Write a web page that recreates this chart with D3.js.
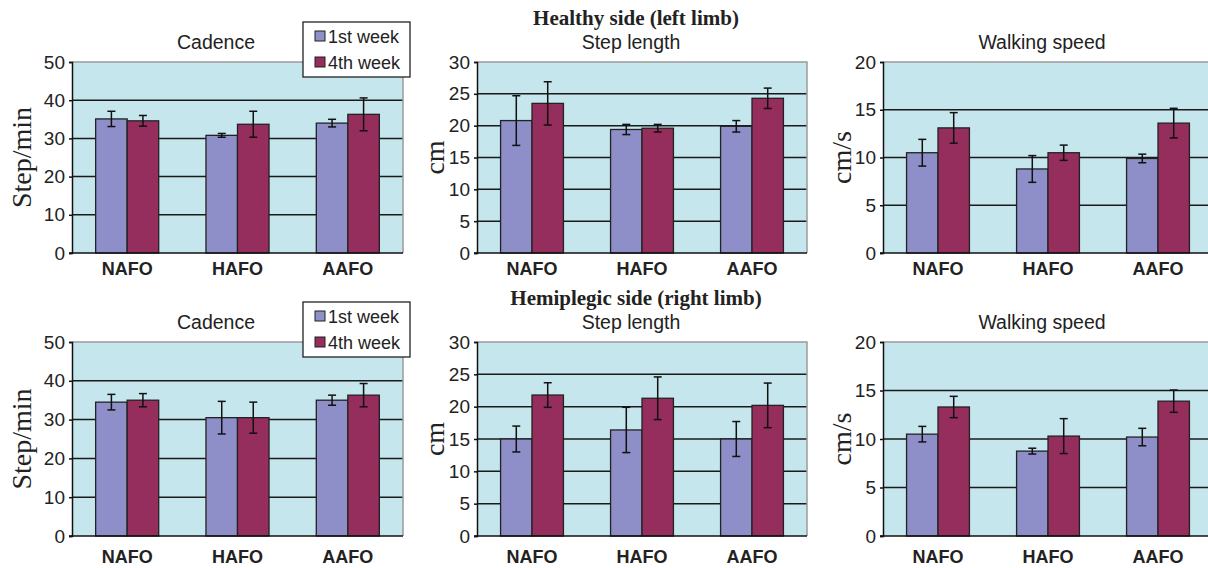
<!DOCTYPE html>
<html>
<head>
<meta charset="utf-8">
<script src="https://cdn.jsdelivr.net/npm/d3@7"></script>
<style>
  body { margin: 0; background: #fff; }
  svg { display: block; font-family: 'Liberation Sans', Arial, sans-serif; }
</style>
</head>
<body>
<svg id="chart" width="1208" height="568"></svg>
<script>
// categories / series
const categories = ['NAFO', 'HAFO', 'AAFO']
const weeks = ['1st week', '4th week']
const sideTitles = ['Healthy side (left limb)', 'Hemiplegic side (right limb)']
const measureTitles = ['Cadence', 'Step length', 'Walking speed']
const yLabels = ['Step/min', 'cm', 'cm/s']
const yTicks = [[0, 10, 20, 30, 40, 50], [0, 5, 10, 15, 20, 25, 30], [0, 5, 10, 15, 20]]

// healthy side (left limb): mean and error per category
const healthyCadenceWk1 = [35.1, 30.8, 34.0]
const healthyCadenceWk1Err = [2.0, 0.5, 1.0]
const healthyCadenceWk4 = [34.6, 33.7, 36.3]
const healthyCadenceWk4Err = [1.4, 3.4, 4.3]
const healthyStepWk1 = [20.8, 19.4, 19.9]
const healthyStepWk1Err = [3.9, 0.8, 0.9]
const healthyStepWk4 = [23.5, 19.6, 24.3]
const healthyStepWk4Err = [3.4, 0.6, 1.6]
const healthySpeedWk1 = [10.5, 8.8, 9.9]
const healthySpeedWk1Err = [1.4, 1.4, 0.45]
const healthySpeedWk4 = [13.1, 10.5, 13.6]
const healthySpeedWk4Err = [1.6, 0.8, 1.55]

// hemiplegic side (right limb)
const hemiCadenceWk1 = [34.5, 30.5, 35.0]
const hemiCadenceWk1Err = [2.0, 4.2, 1.3]
const hemiCadenceWk4 = [35.0, 30.5, 36.3]
const hemiCadenceWk4Err = [1.7, 4.0, 3.0]
const hemiStepWk1 = [15.0, 16.4, 15.0]
const hemiStepWk1Err = [2.0, 3.5, 2.7]
const hemiStepWk4 = [21.8, 21.3, 20.2]
const hemiStepWk4Err = [1.9, 3.3, 3.45]
const hemiSpeedWk1 = [10.5, 8.75, 10.2]
const hemiSpeedWk1Err = [0.8, 0.3, 0.9]
const hemiSpeedWk4 = [13.3, 10.3, 13.9]
const hemiSpeedWk4Err = [1.1, 1.8, 1.15]

const panelData = [
  [
    [[healthyCadenceWk1, healthyCadenceWk1Err], [healthyCadenceWk4, healthyCadenceWk4Err]],
    [[healthyStepWk1, healthyStepWk1Err], [healthyStepWk4, healthyStepWk4Err]],
    [[healthySpeedWk1, healthySpeedWk1Err], [healthySpeedWk4, healthySpeedWk4Err]],
  ],
  [
    [[hemiCadenceWk1, hemiCadenceWk1Err], [hemiCadenceWk4, hemiCadenceWk4Err]],
    [[hemiStepWk1, hemiStepWk1Err], [hemiStepWk4, hemiStepWk4Err]],
    [[hemiSpeedWk1, hemiSpeedWk1Err], [hemiSpeedWk4, hemiSpeedWk4Err]],
  ],
]

// layout
const colX = [[72, 403], [477, 807], [883, 1213]]
const rowY = [[62, 253], [342, 536]]
const catLabelDy = [22, 27]
const yLabelX = [31, 444, 851]
const titleX = [216, 631, 1042]
const colors = ['#8e8ec8', '#952d5d']
const plotBg = '#c5e6ec'

const svg = d3.select('#chart')
svg.append('rect').attr('width', 1208).attr('height', 568).attr('fill', '#fff')

rowY.forEach(([top, bottom], r) => {
  // 上方的大标题
  svg.append('text')
    .attr('x', 636)
    .attr('y', top - 37)
    .attr('text-anchor', 'middle')
    .attr('font-family', "'Liberation Serif', 'Times New Roman', serif")
    .attr('font-weight', 'bold')
    .attr('font-size', 21)
    .attr('fill', '#222')
    .text(sideTitles[r])

  colX.forEach(([left, right], c) => {
    const g = svg.append('g')
    const innerW = right - left

    const x0 = d3.scaleBand().domain(categories).range([left, right])
    const x1 = d3.scaleBand().domain(weeks).range([0, x0.bandwidth()]).paddingOuter(0.75)
    const ticks = yTicks[c]
    const y = d3.scaleLinear().domain([0, d3.max(ticks)]).range([bottom, top])

    // 背景
    g.append('rect')
      .attr('x', left).attr('y', top)
      .attr('width', innerW).attr('height', bottom - top)
      .attr('fill', plotBg)

    // 网格线
    g.append('g')
      .selectAll('line')
      .data(ticks.slice(1, -1))
      .join('line')
      .attr('x1', left).attr('x2', right)
      .attr('y1', d => y(d)).attr('y2', d => y(d))
      .attr('stroke', '#1a1a1a')
      .attr('stroke-width', 1.5)

    // 上、右边框
    g.append('path')
      .attr('d', `M${left},${top}H${right}V${bottom}`)
      .attr('fill', 'none')
      .attr('stroke', '#9a9a9a')
      .attr('stroke-width', 1.5)

    // 柱子
    const rows = []
    panelData[r][c].forEach(([means, errs], s) => {
      categories.forEach((cat, i) => rows.push({ cat, week: weeks[s], s, v: means[i], e: errs[i] }))
    })

    g.append('g')
      .selectAll('rect')
      .data(rows)
      .join('rect')
      .attr('x', d => x0(d.cat) + x1(d.week))
      .attr('y', d => y(d.v))
      .attr('width', x1.bandwidth())
      .attr('height', d => bottom - y(d.v))
      .attr('fill', d => colors[d.s])
      .attr('stroke', '#222')
      .attr('stroke-width', 1.3)

    // 误差线
    const eg = g.append('g').attr('stroke', '#111').attr('stroke-width', 1.5)
    rows.forEach(d => {
      const cx = x0(d.cat) + x1(d.week) + x1.bandwidth() / 2
      eg.append('line').attr('x1', cx).attr('x2', cx).attr('y1', y(d.v + d.e)).attr('y2', y(d.v - d.e))
      eg.append('line').attr('x1', cx - 4).attr('x2', cx + 4).attr('y1', y(d.v + d.e)).attr('y2', y(d.v + d.e))
      eg.append('line').attr('x1', cx - 4).attr('x2', cx + 4).attr('y1', y(d.v - d.e)).attr('y2', y(d.v - d.e))
    })

    // y 轴
    const yAxis = d3.axisLeft(y).tickValues(ticks).tickSize(3).tickPadding(4)
    const yg = g.append('g').attr('transform', `translate(${left},0)`).call(yAxis)
    yg.select('.domain').attr('stroke', '#111').attr('stroke-width', 1.5)
    yg.selectAll('.tick line').attr('stroke', '#111').attr('stroke-width', 1.5)
    yg.selectAll('.tick text')
      .attr('font-family', "'Liberation Sans', Arial, sans-serif")
      .attr('font-size', 19)
      .attr('fill', '#222')

    // x 轴
    g.append('line')
      .attr('x1', left - 3).attr('x2', right)
      .attr('y1', bottom).attr('y2', bottom)
      .attr('stroke', '#111').attr('stroke-width', 1.5)
    g.append('g')
      .selectAll('text')
      .data(categories)
      .join('text')
      .attr('x', d => x0(d) + x0.bandwidth() / 2)
      .attr('y', bottom + catLabelDy[r])
      .attr('text-anchor', 'middle')
      .attr('font-weight', 'bold')
      .attr('font-size', 18)
      .attr('fill', '#222')
      .text(d => d)

    // 小标题
    g.append('text')
      .attr('x', titleX[c])
      .attr('y', top - 13)
      .attr('text-anchor', 'middle')
      .attr('font-size', 19.5)
      .attr('fill', '#222')
      .text(measureTitles[c])

    // y 轴标签
    g.append('text')
      .attr('transform', `translate(${yLabelX[c]},${(top + bottom) / 2}) rotate(-90)`)
      .attr('text-anchor', 'middle')
      .attr('font-family', "'Liberation Serif', 'Times New Roman', serif")
      .attr('font-size', 28)
      .attr('fill', '#222')
      .text(yLabels[c])

    // 图例
    if (c === 0) {
      const lg = svg.append('g').attr('transform', `translate(303,${top - 40})`)
      lg.append('rect')
        .attr('width', 107).attr('height', 55)
        .attr('fill', '#fff').attr('stroke', '#222').attr('stroke-width', 1.3)
      weeks.forEach((w, i) => {
        lg.append('rect')
          .attr('x', 12).attr('y', 9 + i * 26)
          .attr('width', 10).attr('height', 10)
          .attr('fill', colors[i]).attr('stroke', '#222').attr('stroke-width', 1)
        lg.append('text')
          .attr('x', 25).attr('y', 21 + i * 26)
          .attr('font-size', 18)
          .attr('fill', '#222')
          .text(w)
      })
    }
  })
})
</script>
</body>
</html>
